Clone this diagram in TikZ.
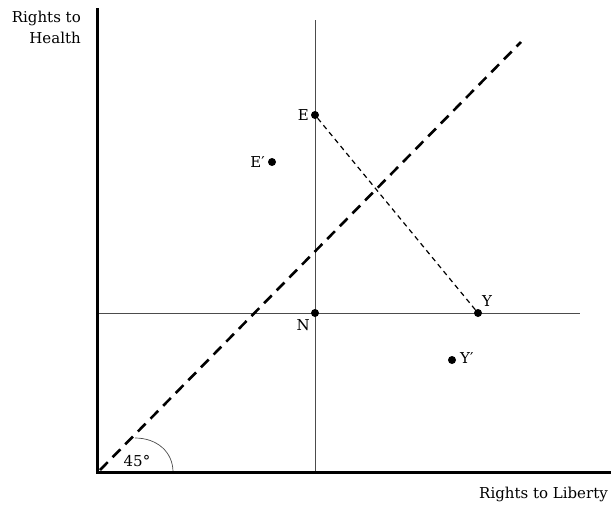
\documentclass[tikz,border=0pt]{standalone}
\usepackage{fontspec}
\setmainfont{DejaVu Serif}
\begin{document}
\begin{tikzpicture}[x=1pt,y=-1pt,
  axis/.style={line width=3pt},
  thin/.style={line width=0.8pt, black!70},
  dot/.style={circle, fill=black, inner sep=0pt, minimum size=8pt},
  lbl/.style={font=\fontsize{15}{21}\selectfont, inner sep=1pt},
  diag/.style={line width=2.6pt, dash pattern=on 11pt off 7pt},
  ey/.style={line width=1.2pt, dash pattern=on 5pt off 4pt}]
\useasboundingbox (0,0) rectangle (611,504);
\coordinate (O) at (97,472);
\coordinate (YT) at (97,8);
\coordinate (XR) at (611,472);
\coordinate (VT) at (315,20);
\coordinate (VB) at (315,472);
\coordinate (HL) at (97,313);
\coordinate (HR) at (580,313);
\coordinate (D1) at (100,470);
\coordinate (D2) at (521,42);
\coordinate (A1) at (135,438);
\coordinate (A2) at (173,472);
% thin lines
\draw[thin] (VT) -- (VB);
\draw[thin] (HL) -- (HR);
% dashed lines
\draw[diag] (D1) -- (D2);
\node[dot] (E) at (315,115) {};
\node[dot] (Ep) at (272,162) {};
\node[dot] (N) at (315,313) {};
\node[dot] (Y) at (478,313) {};
\node[dot] (Yp) at (452,360) {};
\draw[ey] (E) -- (Y);
% arc
\draw[thin, line width=0.7pt] (A1) .. controls (157,438) and (173,452) .. (A2);
\node[lbl] (ang) at (137,461) {45°};
% axes
\draw[axis] (YT) -- (O) -- (XR);
% labels
\node[lbl, anchor=east] (El) at (310,115) {E};
\node[lbl, anchor=east] (Epl) at (266,162) {E′};
\node[lbl, anchor=north east] (Nl) at (311,318) {N};
\node[lbl, anchor=south west] (Yl) at (481,308) {Y};
\node[lbl, anchor=west] (Ypl) at (459,358) {Y′};
\node[lbl, anchor=north east, align=right] (yax) at (82,10) {Rights to\\Health};
\node[lbl, anchor=south east] (xax) at (609,503) {Rights to Liberty};
\end{tikzpicture}
\end{document}
